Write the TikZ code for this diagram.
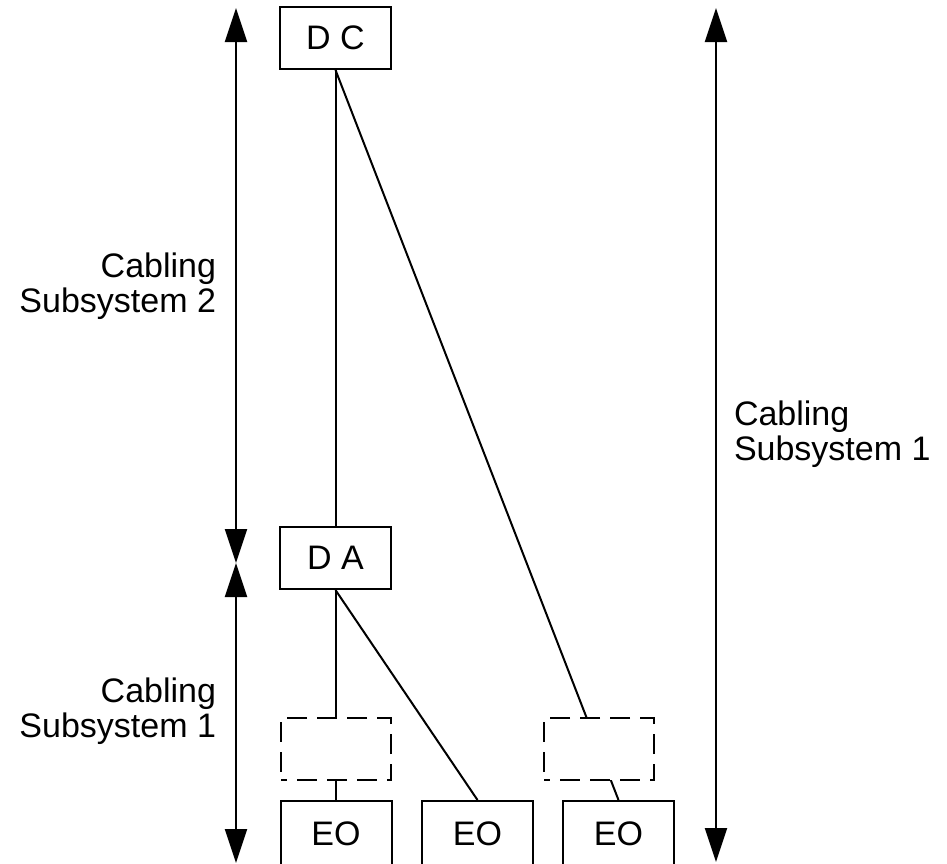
\documentclass[tikz,border=0pt]{standalone}
\usepackage{fontspec}
\setmainfont{Liberation Sans}
\usetikzlibrary{arrows.meta}
\begin{document}
\begin{tikzpicture}[x=1pt,y=-1pt, line width=2pt,
  box/.style={draw, line width=2pt, minimum width=111pt, minimum height=62pt, inner sep=0pt, font=\fontsize{34}{35}\selectfont, fill=white},
  dbox/.style={draw, dash pattern=on 20pt off 10pt, dash phase=14pt, line width=2pt, minimum width=110pt, minimum height=62pt, inner sep=0pt, fill=white},
  lbl/.style={font=\fontsize{34}{35}\selectfont, inner sep=0pt},
  dimarrow/.style={{Triangle[length=34pt,width=22pt]}-{Triangle[length=34pt,width=22pt]}, line width=2pt}
]
\useasboundingbox (0,0) rectangle (947,863);

% boxes
\node[box] (DC) at (335.5,38) {D C};
\node[box] (DA) at (335.5,558) {D A};
\node[box, minimum height=65pt] (EO1) at (336,833.5) {EO};
\node[box, minimum height=65pt] (EO2) at (477.5,833.5) {EO};
\node[box, minimum height=65pt] (EO3) at (618.5,833.5) {EO};

% connectors
\draw (DC.south) -- (DA.north);
\draw (DC.south) -- (EO3.north);
\draw (DA.south) -- (EO2.north);
\draw (DA.south) -- (DA.south |- EO1.north);

% dashed boxes on top of the connectors
\node[dbox] (X1) at (336,749) {};
\node[dbox] (X2) at (599,749) {};

% dimension arrows
\coordinate (L0) at (236,8);
\coordinate (L1) at (236,563);
\coordinate (L2) at (236,863);
\coordinate (R0) at (716,8);
\coordinate (R1) at (716,862);
\draw[dimarrow] (L0) -- (L1);
\draw[dimarrow] (L1) -- (L2);
\draw[dimarrow] (R0) -- (R1);

% labels
\node[lbl, align=right, anchor=base east] (T2) at (217,312) {Cabling\\Subsystem 2};
\node[lbl, align=right, anchor=base east] (T1) at (217,737) {Cabling\\Subsystem 1};
\node[lbl, align=left, anchor=base west] (T3) at (733,460) {Cabling\\Subsystem 1};
\end{tikzpicture}
\end{document}
